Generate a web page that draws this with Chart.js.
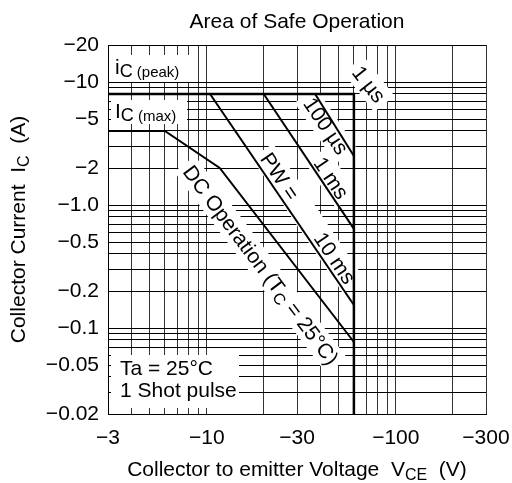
<!DOCTYPE html>
<html>
<head>
<meta charset="utf-8">
<script src="https://cdn.jsdelivr.net/npm/chart.js@4/dist/chart.umd.min.js"></script>
<style>
html, body { margin: 0; padding: 0; background: #fff; }
#wrap { width: 512px; height: 483px; }
</style>
</head>
<body>
<div id="wrap"><canvas id="soa"></canvas></div>
<script>
// grid values as magnitudes; labels get a minus sign
const xGrid = [3, 4, 5, 6, 7, 8, 9, 10, 20, 30, 40, 50, 60, 70, 80, 90, 100, 200, 300];
const xLabels = [3, 10, 30, 100, 300];
const yGrid = [0.02, 0.03, 0.04, 0.05, 0.06, 0.07, 0.08, 0.09, 0.1, 0.2, 0.3, 0.4, 0.5, 0.6, 0.7, 0.8, 0.9,
               1, 2, 3, 4, 5, 6, 7, 8, 9, 10, 20];
const yLabels = [0.02, 0.05, 0.1, 0.2, 0.5, 1, 2, 5, 10, 20];

// SOA boundaries, |VCE| (V) against |IC| (A)
const peakX = [3, 60, 60];
const peakY = [8, 8, 0.02];
const dcX = [3, 6, 11.7, 60];
const dcY = [4, 4, 2, 0.077];
const ms10X = [10.4, 60];
const ms10Y = [8, 0.154];
const ms1X = [20, 60];
const ms1Y = [8, 0.64];
const us100X = [37.4, 60];
const us100Y = [8, 2.5];

const FONT = '"Liberation Sans", Arial, sans-serif';
const pts = (xs, ys) => xs.map((x, i) => ({ x: x, y: ys[i] }));
const minus = '\u2212';

function line(xs, ys, w) {
    return { data: pts(xs, ys), borderColor: '#000', borderWidth: w, pointRadius: 0, tension: 0, fill: false };
}

// text pieces [text, size, dy] or {gap}
function measureRuns(ctx, parts) {
    let w = 0;
    parts.forEach(p => {
        if (p.gap) { p.w = p.gap; }
        else { ctx.font = p[1] + 'px ' + FONT; p.w = ctx.measureText(p[0]).width; }
        w += p.w;
    });
    return w;
}
function drawRuns(ctx, parts, x, y) {
    let cx = x;
    parts.forEach(p => {
        if (!p.gap) {
            ctx.font = p[1] + 'px ' + FONT;
            ctx.fillText(p[0], cx, y + (p[2] || 0));
        }
        cx += p.w;
    });
}

// rotated curve labels, anchored in data units
const notes = [
    { x: 72, y: 9.6, rot: 52, parts: [['1 \u00b5s', 21]] },
    { x: 42.7, y: 4.4, rot: 56, parts: [['100 \u00b5s', 21]] },
    { x: 45.5, y: 1.66, rot: 56, parts: [['1 ms', 21]] },
    { x: 34.3, y: 0.78, rot: 56, parts: [['PW =', 21], { gap: 44 }, ['10 ms', 21]] },
    { x: 19.3, y: 0.325, rot: 53, parts: [['DC Operation (T', 21], ['C', 16, 4], [' = 25\u00b0C)', 21]] }
];

const annot = {
    id: 'annot',
    beforeDatasetsDraw(chart) {
        const ctx = chart.ctx, a = chart.chartArea;
        const sx = chart.scales.x, sy = chart.scales.y;
        ctx.save();
        ctx.fillStyle = '#fff';
        ctx.fillRect(a.left + 3, a.top + 10, 78, 27);
        ctx.fillRect(a.left + 3, a.top + 55, 76, 24);
        ctx.fillRect(a.left + 3, a.bottom - 59, 128, 53);
        notes.forEach(n => {
            const w = measureRuns(ctx, n.parts);
            ctx.save();
            ctx.translate(sx.getPixelForValue(n.x), sy.getPixelForValue(n.y));
            ctx.rotate(n.rot * Math.PI / 180);
            ctx.fillRect(-w / 2 - 5, -13, w + 10, 26);
            ctx.restore();
        });
        ctx.restore();
    },
    afterDatasetsDraw(chart) {
        const ctx = chart.ctx, a = chart.chartArea;
        const sx = chart.scales.x, sy = chart.scales.y;
        ctx.save();
        ctx.fillStyle = '#000';
        ctx.textBaseline = 'alphabetic';
        let p = [['i', 21], ['C', 18, 3], [' (peak)', 15, 3]];
        measureRuns(ctx, p); drawRuns(ctx, p, a.left + 7, a.top + 29);
        p = [['I', 21], ['C', 18, 3], [' (max)', 15, 3]];
        measureRuns(ctx, p); drawRuns(ctx, p, a.left + 7, a.top + 73);
        ctx.font = '21px ' + FONT;
        ctx.fillText('Ta = 25\u00b0C', a.left + 12, a.bottom - 39);
        ctx.fillText('1 Shot pulse', a.left + 12, a.bottom - 17);
        notes.forEach(n => {
            const w = measureRuns(ctx, n.parts);
            ctx.save();
            ctx.translate(sx.getPixelForValue(n.x), sy.getPixelForValue(n.y));
            ctx.rotate(n.rot * Math.PI / 180);
            drawRuns(ctx, n.parts, -w / 2, 7);
            ctx.restore();
        });
        // titles
        const mid = (a.left + a.right) / 2;
        ctx.font = '21px ' + FONT;
        ctx.textAlign = 'center';
        ctx.fillText('Area of Safe Operation', mid, 28);
        ctx.textAlign = 'left';
        p = [['Collector to emitter Voltage  V', 21], ['CE', 16, 4], ['  (V)', 21]];
        let w = measureRuns(ctx, p);
        drawRuns(ctx, p, mid - w / 2, 476);
        p = [['Collector Current  I', 21], ['C', 16, 4], ['  (A)', 21]];
        w = measureRuns(ctx, p);
        ctx.translate(25, (a.top + a.bottom) / 2);
        ctx.rotate(-Math.PI / 2);
        drawRuns(ctx, p, -w / 2, 0);
        ctx.restore();
    }
};

new Chart(document.getElementById('soa'), {
    type: 'line',
    data: {
        datasets: [
            line(peakX, peakY, 2.5),
            line(dcX, dcY, 2),
            line(ms10X, ms10Y, 2),
            line(ms1X, ms1Y, 2),
            line(us100X, us100Y, 2)
        ]
    },
    options: {
        responsive: true,
        maintainAspectRatio: false,
        animation: false,
        events: [],
        layout: { padding: { top: 45, right: 26, left: 0, bottom: 0 } },
        plugins: { legend: { display: false }, tooltip: { enabled: false } },
        scales: {
            x: {
                type: 'logarithmic', min: 3, max: 300,
                afterBuildTicks: s => { s.ticks = xGrid.map(v => ({ value: v })); },
                afterFit: s => { s.height = 69; s.paddingLeft = 0; s.paddingRight = 0; },
                ticks: {
                    autoSkip: false, maxRotation: 0, padding: 12, color: '#000',
                    font: { family: FONT, size: 21 },
                    callback: v => xLabels.includes(v) ? minus + v : ''
                },
                grid: { color: '#333', lineWidth: 1, drawTicks: false },
                border: { color: '#000', width: 1 }
            },
            y: {
                type: 'logarithmic', min: 0.02, max: 20,
                afterBuildTicks: s => { s.ticks = yGrid.map(v => ({ value: v })); },
                afterFit: s => { s.width = 108; s.paddingTop = 0; s.paddingBottom = 0; },
                ticks: {
                    autoSkip: false, padding: 9, color: '#000',
                    font: { family: FONT, size: 21 },
                    callback: v => yLabels.includes(v) ? minus + (v === 1 ? '1.0' : v) : ''
                },
                grid: { color: '#000', lineWidth: 1, drawTicks: false },
                border: { color: '#000', width: 1 }
            }
        }
    },
    plugins: [annot]
});
</script>
</body>
</html>
